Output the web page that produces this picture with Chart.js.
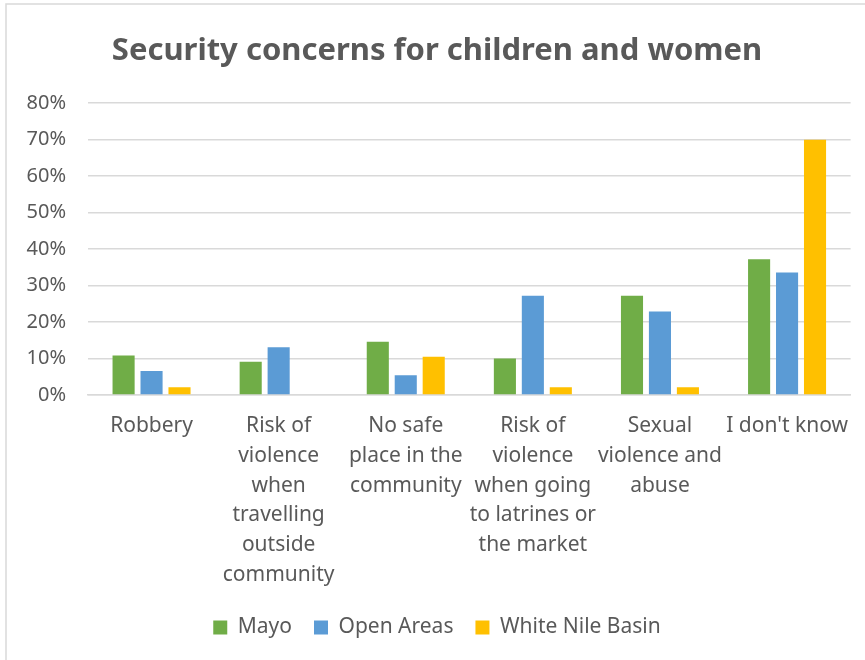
<!DOCTYPE html>
<html lang="en">
<head>
    <meta charset="UTF-8">
    <title>Security concerns for children and women</title>
    <style>
        body {
            margin: 0;
            background-color: #fff;
        }
        #wrap {
            width: 865px;
            height: 660px;
            position: relative;
        }
    </style>
    <script src="https://cdn.jsdelivr.net/npm/chart.js"></script>
</head>
<body>
<div id="wrap"><canvas id="chart" width="865" height="660"></canvas></div>

<script>
    // categories (wrapped as in the original)
    const categories = [
        ['Robbery'],
        ['Risk of', 'violence', 'when', 'travelling', 'outside', 'community'],
        ['No safe', 'place in the', 'community'],
        ['Risk of', 'violence', 'when going', 'to latrines or', 'the market'],
        ['Sexual', 'violence and', 'abuse'],
        ["I don't know"]
    ];

    // values in %
    const mayo = [10.8, 9.1, 14.6, 10.0, 27.2, 37.2];
    const openAreas = [6.6, 13.1, 5.4, 27.2, 22.9, 33.6];
    const whiteNile = [2.1, null, 10.5, 2.1, 2.1, 70.0];

    const yTicks = [0, 10, 20, 30, 40, 50, 60, 70, 80];

    const textColor = '#595959';
    const gridColor = '#d9d9d9';
    const fontFamily = "'Noto Sans', 'Liberation Sans', sans-serif";

    // light frame on left and top, like the exported chart
    const framePlugin = {
        id: 'frame',
        beforeDraw(chart) {
            const ctx = chart.ctx;
            ctx.save();
            ctx.fillStyle = '#fff';
            ctx.fillRect(0, 0, chart.width, chart.height);
            ctx.strokeStyle = '#d9d9d9';
            ctx.lineWidth = 1.5;
            ctx.beginPath();
            ctx.moveTo(6, chart.height);
            ctx.lineTo(6, 4);
            ctx.lineTo(chart.width, 4);
            ctx.stroke();
            ctx.restore();
        }
    };

    new Chart(document.getElementById('chart').getContext('2d'), {
        type: 'bar',
        data: {
            labels: categories,
            datasets: [
                { label: 'Mayo', data: mayo, backgroundColor: '#70AD47' },
                { label: 'Open Areas', data: openAreas, backgroundColor: '#5B9BD5' },
                { label: 'White Nile Basin', data: whiteNile, backgroundColor: '#FFC000' }
            ]
        },
        options: {
            responsive: false,
            animation: false,
            categoryPercentage: 0.66,
            barPercentage: 0.79,
            layout: {
                padding: { top: 33, right: 13, bottom: 12, left: 22 }
            },
            plugins: {
                title: {
                    display: true,
                    text: 'Security concerns for children and women',
                    color: textColor,
                    font: { family: fontFamily, size: 31, weight: 'bold', lineHeight: 1.2 },
                    padding: { top: 0, bottom: 33 }
                },
                legend: {
                    position: 'bottom',
                    labels: {
                        color: textColor,
                        font: { family: fontFamily, size: 21 },
                        boxWidth: 14,
                        boxHeight: 14,
                        padding: 22
                    }
                },
                tooltip: { enabled: false }
            },
            scales: {
                x: {
                    grid: { display: false, drawTicks: false },
                    border: { display: true, color: gridColor, width: 1.5 },
                    ticks: {
                        color: textColor,
                        font: { family: fontFamily, size: 21, lineHeight: 1.42 },
                        maxRotation: 0,
                        minRotation: 0,
                        autoSkip: false,
                        padding: 16
                    },
                    afterFit: scale => { scale.height = 200; }
                },
                y: {
                    min: 0,
                    max: 80,
                    afterBuildTicks: scale => {
                        scale.ticks = yTicks.map(v => ({ value: v }));
                    },
                    grid: { color: gridColor, lineWidth: 1.5, drawTicks: false },
                    border: { display: false },
                    ticks: {
                        color: textColor,
                        font: { family: fontFamily, size: 20 },
                        padding: 22,
                        callback: value => value + '%'
                    },
                    afterFit: scale => { scale.width = 66; }
                }
            }
        },
        plugins: [framePlugin]
    });
</script>
</body>
</html>
